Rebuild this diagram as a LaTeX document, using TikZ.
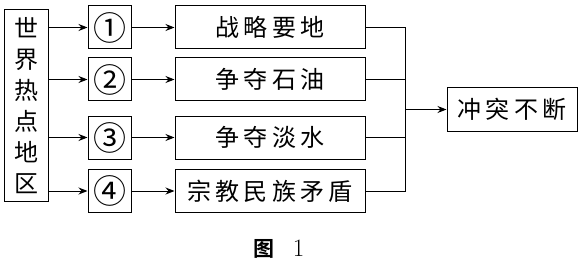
\documentclass[tikz,border=0pt]{standalone}
\usepackage{fontspec}
\usepackage{tikz}
\usetikzlibrary{positioning,calc,arrows.meta}
\newfontfamily\cjk[LetterSpace=18]{Noto Sans CJK SC}
\newfontfamily\cjkplain{Noto Sans CJK SC}
\newfontfamily\cjkbold{Noto Sans CJK SC Bold}

\begin{document}
\begin{tikzpicture}[x=1pt,y=-1pt,
  box/.style={draw,line width=1pt,minimum width=190pt,minimum height=43pt,
              inner sep=0pt,font=\fontsize{24}{28}\cjk},
  numbox/.style={draw,line width=1pt,minimum width=43pt,minimum height=43pt,
                 inner sep=0pt,font=\fontsize{33}{34}\cjkplain},
  arr/.style={-{Stealth[length=9pt,width=7pt]},line width=1pt}]
  \useasboundingbox (0,0) rectangle (584,270);
  \node[draw,line width=1pt,minimum width=44pt,minimum height=191pt,inner sep=0pt,
        align=center,font=\fontsize{24}{31}\cjkplain] (region) at (26,105.5)
        {世\\界\\热\\点\\地\\区};
  \node[numbox] (n1) at (109.5,27.5)  {①};
  \node[numbox] (n2) at (109.5,79.5)  {②};
  \node[numbox] (n3) at (109.5,137.5) {③};
  \node[numbox] (n4) at (109.5,191)   {④};
  \node[box] (t1) at (270,27.5)  {战略要地};
  \node[box] (t2) at (270,79.5)  {争夺石油};
  \node[box] (t3) at (270,137.5) {争夺淡水};
  \node[box] (t4) at (270,191)   {宗教民族矛盾};
  \node[box,minimum width=130pt] (res) at (512,109.5) {冲突不断};
  \coordinate (j) at (405,109.5);
  \draw[arr] (region.east |- n1) -- (n1);
  \draw[arr] (region.east |- n2) -- (n2);
  \draw[arr] (region.east |- n3) -- (n3);
  \draw[arr] (region.east |- n4) -- (n4);
  \draw[arr] (n1) -- (t1);
  \draw[arr] (n2) -- (t2);
  \draw[arr] (n3) -- (t3);
  \draw[arr] (n4) -- (t4);
  \draw[line width=1pt] (t1) -| (j);
  \draw[line width=1pt] (t2) -| (j);
  \draw[line width=1pt] (t3) -| (j);
  \draw[line width=1pt] (t4) -| (j);
  \draw[arr] (j) -- (res);
  \node (cap) at (279,249) {{\fontsize{21}{22}\cjkbold 图}\hspace{18pt}{\fontsize{25}{26}\selectfont 1}};
\end{tikzpicture}
\end{document}
